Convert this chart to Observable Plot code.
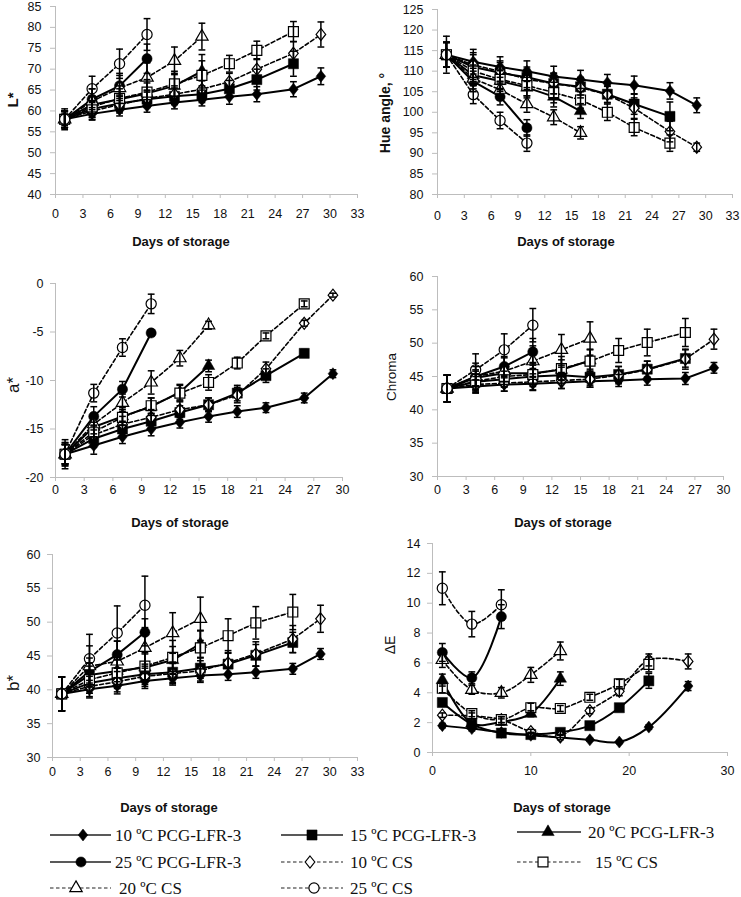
<!DOCTYPE html>
<html><head><meta charset="utf-8">
<script src="https://cdn.jsdelivr.net/npm/d3@7"></script>
<script src="https://cdn.jsdelivr.net/npm/@observablehq/plot@0.6"></script>
<style>
body{margin:0;background:#fff;}
#chart{position:relative;width:741px;height:897px;overflow:hidden;background:#fff;font-family:"Liberation Sans",Arial,sans-serif;color:#111;}
.pane{position:absolute;}
.ylab{position:absolute;transform:translate(-50%,-50%) rotate(-90deg);white-space:nowrap;line-height:1;}
.xlab{position:absolute;transform:translate(-50%,-50%);font-weight:bold;font-size:13px;white-space:nowrap;line-height:1;}
#chart svg [aria-label="x-axis tick"], #chart svg [aria-label="y-axis tick"]{stroke:#bdbdbd;}
</style></head><body><div id="chart"></div><script>
// ---------- data ----------
const days = [1, 4, 7, 10, 13, 16, 19, 22, 26, 29];
const seriesLabels = ["10 ºC PCG-LFR-3", "15 ºC PCG-LFR-3", "20 ºC PCG-LFR-3", "25 ºC PCG-LFR-3",
                      "10 ºC CS", "15 ºC CS", "20 ºC CS", "25 ºC CS"];

const L_values = [
  [58, 59.3, 60.3, 61.2, 62, 62.7, 63.4, 64, 65.2, 68.3],
  [58, 60.5, 61.8, 62.8, 63.5, 64, 65.3, 67.5, 71.3],
  [58, 61.5, 62.8, 64.2, 66, 69.5],
  [58, 62.8, 66, 72.5],
  [58, 60, 61.5, 63, 64, 65.2, 67, 70, 73.8, 78.3],
  [58, 61, 63, 64.5, 66.5, 68.5, 71.3, 74.5, 79],
  [58, 62.3, 65.5, 68, 72, 77.8],
  [58, 65.3, 71.3, 78.3]
];
const L_errors = [
  [1.5, 1.5, 1.5, 1.5, 1.5, 1.5, 1.8, 1.8, 1.8, 2],
  [2, 2, 2, 2, 2, 2, 2, 2.5, 3],
  [2, 2, 2.5, 2.5, 3, 4],
  [2, 2.5, 3, 3.5],
  [2, 2, 2, 2, 2, 2, 2, 2.5, 2.8, 3],
  [2.5, 2.5, 3, 3, 3, 3.5, 2, 2.2, 2.4],
  [2, 3, 3, 3.5, 3.3, 3.2],
  [2, 3, 3.5, 3.8]
];
const hue_values = [
  [114, 112.3, 111, 110, 108.7, 108, 107.2, 106.6, 105.2, 101.7],
  [114, 111, 109.6, 108.5, 107, 106.2, 104.4, 102, 99],
  [114, 109, 107.6, 106, 103.8, 100.3],
  [114, 107.5, 103.8, 96.2],
  [114, 111.5, 110, 108, 107, 106, 104.3, 101, 95.3, 91.5],
  [114, 110, 108, 106.5, 104.8, 103, 100, 96.3, 92.5],
  [114, 108.2, 105.5, 102, 98.8, 95],
  [114, 104.3, 98, 92.5]
];
const hue_errors = [
  [4.5, 3, 2.5, 2.5, 2.5, 2.2, 2, 2.2, 2, 1.8],
  [3, 3, 2.5, 2.5, 2.5, 2, 2, 2.5, 3.5],
  [3, 2.5, 2.5, 2.5, 2.5, 1.8],
  [3, 2.5, 2, 2],
  [3, 3, 2.5, 2.5, 2.5, 2.5, 2, 2.5, 2.5, 1],
  [3, 2.5, 2.5, 2.5, 2.5, 2, 2, 2, 2],
  [3, 2.5, 2, 2, 1.8, 1.5],
  [3, 2.2, 2, 2]
];
const a_values = [
  [-17.6, -16.7, -15.8, -15, -14.3, -13.7, -13.2, -12.8, -11.8, -9.3],
  [-17.6, -16, -15, -14.2, -13.3, -12.5, -11.3, -9.5, -7.2],
  [-17.6, -14.8, -13.7, -12.7, -11.2, -8.5],
  [-17.6, -13.7, -10.9, -5.1],
  [-17.6, -15.6, -14.5, -13.8, -13, -12.5, -11.5, -8.8, -4.1, -1.2],
  [-17.6, -15.3, -13.8, -12.6, -11.3, -10.2, -8.2, -5.4, -2.1],
  [-17.6, -14.5, -12.3, -10.2, -7.7, -4.3],
  [-17.6, -11.3, -6.6, -2.1]
];
const a_errors = [
  [1.2, 0.9, 0.7, 0.7, 0.6, 0.6, 0.6, 0.5, 0.5, 0.4],
  [1, 0.9, 0.8, 0.8, 0.7, 0.7, 0.8, 0.7, 0.4],
  [1, 1, 0.9, 0.9, 0.8, 0.6],
  [1, 1, 0.8, 0.3],
  [1.5, 1, 0.8, 0.8, 0.8, 0.7, 0.8, 0.7, 0.3, 0.2],
  [1.2, 1, 0.8, 0.8, 0.8, 0.8, 0.6, 0.3, 0.3],
  [1, 1, 0.9, 1.2, 0.8, 0.4],
  [1, 0.9, 0.9, 1]
];
const chroma_values = [
  [43.2, 43.5, 43.8, 43.9, 44.1, 44.3, 44.4, 44.6, 44.7, 46.3],
  [43.2, 44.2, 44.6, 45, 45.2, 44.9, 45.3, 46.1, 47.7],
  [43.2, 44.8, 45.5, 45.5, 46, 47.4],
  [43.2, 45, 46.5, 48.7],
  [43.2, 43.8, 44, 44.2, 44.4, 44.6, 45.2, 46, 47.6, 50.6],
  [43.2, 44.3, 45, 45.3, 46.2, 47.3, 48.9, 50.1, 51.6],
  [43.2, 45, 45.8, 47.3, 49, 50.7],
  [43.2, 46, 49, 52.7]
];
const chroma_errors = [
  [2, 1, 1, 1, 0.9, 0.9, 0.9, 0.9, 0.9, 0.8],
  [2, 1.2, 1.2, 1.2, 1.2, 1.2, 1.2, 1.2, 1.3],
  [2, 1.2, 1.3, 1.5, 1.5, 1.6],
  [2, 1.5, 1.5, 2],
  [2, 1.2, 1.2, 1.2, 1.2, 1.2, 1.3, 1.3, 1.5, 1.5],
  [2, 1.5, 1.5, 1.8, 1.8, 1.8, 1.8, 2, 2.1],
  [2, 2, 2, 2.3, 2.3, 2.5],
  [2, 2.4, 2.4, 2.5]
];
const b_values = [
  [39.4, 40.1, 40.6, 41.3, 41.7, 42.1, 42.3, 42.6, 43.1, 45.3],
  [39.4, 41, 41.7, 42.3, 42.6, 43.2, 43.8, 45.1, 47],
  [39.4, 42.2, 42.8, 43.3, 44.4, 46.8],
  [39.4, 42.7, 45.2, 48.5],
  [39.4, 40.5, 41.2, 42, 42.4, 42.8, 44, 45.3, 47.5, 50.5],
  [39.4, 41.5, 42.5, 43.5, 44.8, 46.2, 48, 49.9, 51.5],
  [39.4, 43.5, 44.2, 46.2, 48.4, 50.5],
  [39.4, 44.6, 48.4, 52.5]
];
const b_errors = [
  [2.5, 1.3, 1.2, 1.1, 1, 1, 0.9, 0.9, 0.8, 0.8],
  [2.5, 1.5, 1.5, 1.5, 1.5, 1.5, 1.6, 1.6, 1.5],
  [2.5, 1.8, 2, 2, 2, 2],
  [2.5, 2, 2, 2],
  [2.5, 1.5, 1.5, 1.5, 1.5, 1.5, 1.8, 1.8, 2, 2],
  [2.5, 2, 2, 2, 2.5, 2.5, 2.5, 2.4, 2.6],
  [2.5, 3, 3, 3, 3, 3.2],
  [2.5, 3.6, 4, 4.3]
];
const dE_values = [
  [1.8, 1.6, 1.35, 1.15, 1.0, 0.85, 0.7, 1.7, 4.45],
  [3.35, 1.9, 1.3, 1.2, 1.35, 1.8, 3.0, 4.8],
  [4.85, 1.95, 2.05, 2.6, 4.95],
  [6.7, 5.0, 9.1],
  [2.5, 2.45, 2.2, 1.4, 1.1, 2.8, 4.1, 6.2, 6.1],
  [4.3, 2.6, 2.2, 3.0, 2.95, 3.7, 4.6, 5.9],
  [6.2, 4.2, 4.0, 5.2, 6.8],
  [11, 8.6, 9.9]
];
const dE_errors = [
  [0.15, 0.15, 0.15, 0.15, 0.15, 0.1, 0.1, 0.15, 0.3],
  [0.2, 0.2, 0.15, 0.15, 0.15, 0.15, 0.2, 0.5],
  [0.4, 0.3, 0.2, 0.2, 0.45],
  [0.6, 0.4, 0.8],
  [0.15, 0.2, 0.2, 0.15, 0.1, 0.2, 0.3, 0.4, 0.5],
  [0.3, 0.2, 0.2, 0.3, 0.2, 0.2, 0.3, 0.5],
  [0.5, 0.3, 0.35, 0.5, 0.6],
  [1.1, 0.85, 1.0]
];
const ticks33 = [0, 3, 6, 9, 12, 15, 18, 21, 24, 27, 30, 33];
const ticks30 = [0, 3, 6, 9, 12, 15, 18, 21, 24, 27, 30];
const ticksDE_x = [0, 10, 20, 30];
const L_ticks = [40, 45, 50, 55, 60, 65, 70, 75, 80, 85];
const hue_ticks = [80, 85, 90, 95, 100, 105, 110, 115, 120, 125];
const a_ticks = [-20, -15, -10, -5, 0];
const chroma_ticks = [30, 35, 40, 45, 50, 55, 60];
const b_ticks = [30, 35, 40, 45, 50, 55, 60];
const dE_ticks = [0, 2, 4, 6, 8, 10, 12, 14];

// ---------- symbols ----------
const capSym = {draw(ctx, size) { const r = Math.sqrt(size / Math.PI); ctx.moveTo(-r, 0); ctx.lineTo(r, 0); }};
const diamondSym = {draw(ctx, size) { const r = Math.sqrt(size / Math.PI); ctx.moveTo(0, -1.25 * r); ctx.lineTo(r, 0); ctx.lineTo(0, 1.25 * r); ctx.lineTo(-r, 0); ctx.closePath(); }};
const symbols = [diamondSym, d3.symbolSquare, d3.symbolTriangle, d3.symbolCircle, diamondSym, d3.symbolSquare, d3.symbolTriangle, d3.symbolCircle];
const radii = [4.8, 5.7, 4.6, 5.1, 4.8, 5.6, 4.6, 5.1];
const filled = i => i < 4;

const chart = document.getElementById("chart");

function panel(cfg) {
  const rows = [];
  cfg.values.forEach((vals, s) => vals.forEach((v, j) => rows.push({s, day: days[j], v, e: cfg.errors[s][j]})));
  const marks = [
    Plot.ruleY([cfg.yDomain[0]], {stroke: "#bdbdbd", strokeWidth: 1}),
    Plot.ruleX([cfg.xDomain[0]], {stroke: "#bdbdbd", strokeWidth: 1}),
    Plot.line(rows.filter(d => d.s < 4), {x: "day", y: "v", z: "s", stroke: "black", strokeWidth: 2, curve: cfg.curve}),
    Plot.line(rows.filter(d => d.s >= 4), {x: "day", y: "v", z: "s", stroke: "black", strokeWidth: 1.6, strokeDasharray: "4,2.5", curve: cfg.curve})
  ];
  for (let s = 0; s < 8; s++) {
    marks.push(Plot.dot(rows.filter(d => d.s === s), {x: "day", y: "v", symbol: symbols[s], r: radii[s],
      fill: filled(s) ? "black" : "white", stroke: "black", strokeWidth: filled(s) ? 0.5 : 1.2}));
  }
  marks.push(
    Plot.ruleX(rows, {x: "day", y1: d => d.v - d.e, y2: d => d.v + d.e, stroke: "black", strokeWidth: 1.5}),
    Plot.dot(rows, {x: "day", y: d => d.v + d.e, symbol: capSym, r: 3.4, stroke: "black", fill: "none", strokeWidth: 1.5}),
    Plot.dot(rows, {x: "day", y: d => d.v - d.e, symbol: capSym, r: 3.4, stroke: "black", fill: "none", strokeWidth: 1.5})
  );
  const svg = Plot.plot({
    width: cfg.w, height: cfg.h,
    marginLeft: cfg.mL, marginRight: cfg.mR, marginTop: cfg.mT, marginBottom: cfg.mB,
    style: {fontFamily: '"Liberation Sans", Arial, sans-serif', fontSize: "12.5px", color: "#111", background: "transparent", overflow: "visible"},
    x: {domain: cfg.xDomain, ticks: cfg.xTicks, tickSize: 4, tickPadding: cfg.xPad, label: null, tickFormat: d => String(d)},
    y: {domain: cfg.yDomain, ticks: cfg.yTicks, tickSize: 5, tickPadding: cfg.yPad, label: null, tickFormat: d => String(d)},
    marks
  });
  const div = document.createElement("div");
  div.className = "pane";
  div.style.left = cfg.left + "px"; div.style.top = cfg.top + "px";
  div.appendChild(svg);
  chart.appendChild(div);
}

function label(cls, text, x, y, style) {
  const d = document.createElement("div");
  d.className = cls; d.textContent = text;
  d.style.left = x + "px"; d.style.top = y + "px";
  Object.assign(d.style, style || {});
  chart.appendChild(d);
}

panel({left: 0, top: 0, w: 370, h: 255, mL: 55, mR: 13, mT: 6, mB: 61, xDomain: [0, 33], xTicks: ticks33, yDomain: [40, 85], yTicks: L_ticks, xPad: 11, yPad: 9, values: L_values, errors: L_errors, curve: "linear"});
panel({left: 370, top: 0, w: 371, h: 255, mL: 67, mR: 9, mT: 9, mB: 61, xDomain: [0, 33], xTicks: ticks33, yDomain: [80, 125], yTicks: hue_ticks, xPad: 13, yPad: 9, values: hue_values, errors: hue_errors, curve: "linear"});
panel({left: 0, top: 260, w: 370, h: 270, mL: 55, mR: 28, mT: 23, mB: 53, xDomain: [0, 30], xTicks: ticks30, yDomain: [-20, 0], yTicks: a_ticks, xPad: 4, yPad: 7, values: a_values, errors: a_errors, curve: "linear"});
panel({left: 370, top: 260, w: 371, h: 270, mL: 67, mR: 18, mT: 16, mB: 54, xDomain: [0, 30], xTicks: ticks30, yDomain: [30, 60], yTicks: chroma_ticks, xPad: 5, yPad: 9, values: chroma_values, errors: chroma_errors, curve: "linear"});
panel({left: 0, top: 530, w: 370, h: 285, mL: 52, mR: 13, mT: 24, mB: 58, xDomain: [0, 33], xTicks: ticks33, yDomain: [30, 60], yTicks: b_ticks, xPad: 6, yPad: 7, values: b_values, errors: b_errors, curve: "linear"});
panel({left: 370, top: 530, w: 371, h: 285, mL: 62, mR: 14, mT: 13, mB: 63, xDomain: [0, 30], xTicks: ticksDE_x, yDomain: [0, 14], yTicks: dE_ticks, xPad: 10, yPad: 7, values: dE_values, errors: dE_errors, curve: "catmull-rom"});

// axis titles
label("ylab", "L*", 12, 100, {fontWeight: "bold", fontSize: "15px"});
label("ylab", "Hue angle, °", 385, 113, {fontWeight: "bold", fontSize: "14px"});
label("ylab", "a*", 13, 385, {fontSize: "17px"});
label("ylab", "Chroma", 392, 377, {fontSize: "13.5px"});
label("ylab", "b*", 13, 683, {fontSize: "17px"});
label("ylab", "ΔE", 390, 645, {fontSize: "14px"});
label("xlab", "Days of storage", 181, 241);
label("xlab", "Days of storage", 566, 241);
label("xlab", "Days of storage", 180, 522);
label("xlab", "Days of storage", 563, 522);
label("xlab", "Days of storage", 169, 807);
label("xlab", "Days of storage", 562, 807);

// ---------- legend ----------
const legendPos = [[0, 0], [1, 0], [2, 0], [0, 1], [1, 1], [2, 1], [0, 2], [1, 2]]; // [col,row]
const legendMarkX = [83, 312, 548, 81, 310, 543, 76, 314];
const colLine = [[50, 111], [281, 343], [517, 581]];
const colText = [115, 350, 588];
const rowY = [20, 47, 73];
const legend = d3.create("svg").attr("width", 741).attr("height", 82)
  .style("position", "absolute").style("left", "0px").style("top", "815px");
seriesLabels.forEach((name, s) => {
  const [c, r] = legendPos[s];
  const y = rowY[r] - (c === 2 && r === 0 ? 3 : 0);
  const [x1, x2] = colLine[c];
  const g = legend.append("g");
  g.append("line").attr("x1", x1).attr("x2", x2).attr("y1", y).attr("y2", y)
    .attr("stroke", "#222").attr("stroke-width", s < 4 ? 1.6 : 1.2)
    .attr("stroke-dasharray", s < 4 ? null : "3.5,2.5");
  const size = Math.PI * radii[s] * radii[s];
  g.append("path").attr("d", d3.symbol(symbols[s], size)())
    .attr("transform", `translate(${legendMarkX[s]},${y})`)
    .attr("fill", filled(s) ? "black" : "white").attr("stroke", "black").attr("stroke-width", filled(s) ? 0.5 : 1.2);
  g.append("text").attr("x", s === 5 ? 595 : s === 6 ? 119 : colText[c]).attr("y", y).attr("dy", "0.35em")
    .attr("font-family", '"Liberation Serif", "Times New Roman", serif').attr("font-size", 17).attr("fill", "#111")
    .text(name);
});
chart.appendChild(legend.node());
</script></body></html>
